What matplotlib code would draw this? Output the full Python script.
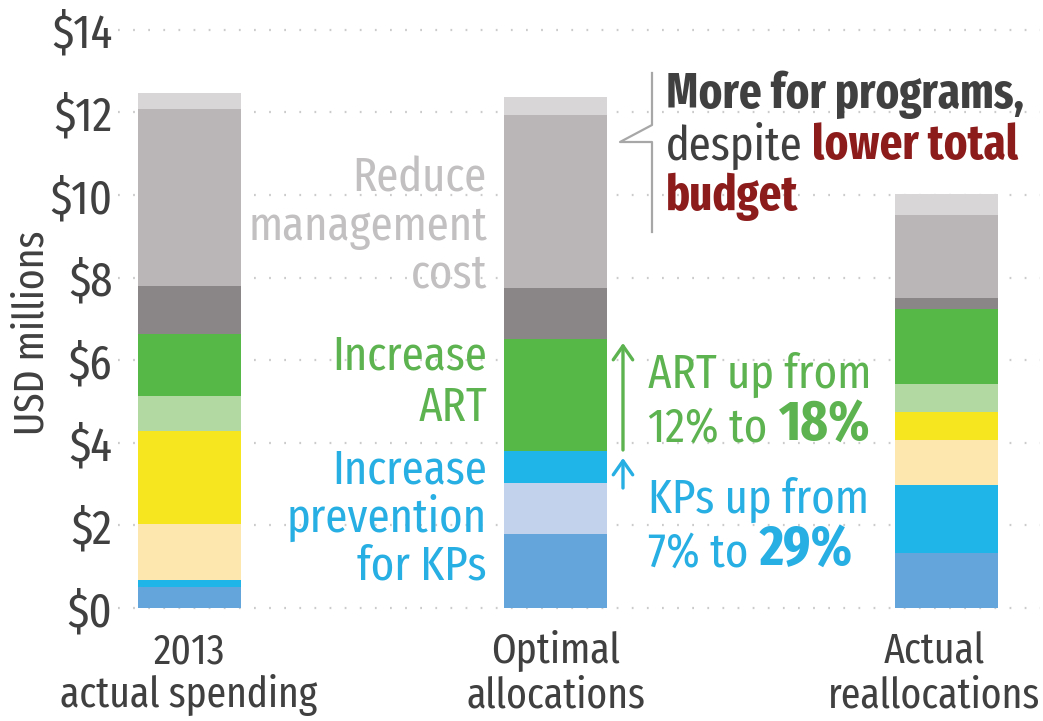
import matplotlib
matplotlib.use("Agg")
import matplotlib.pyplot as plt

W, H = 1043, 721

# bars (x positions are layout: the third bar sits a little further out)
categories = ["2013\nactual spending", "Optimal\nallocations", "Actual\nreallocations"]
xpos = [0, 1, 2.065]

# stacked segments, bottom to top, USD millions
kp_blue = [0.50, 1.79, 1.34]
kp_lavender = [0.00, 1.23, 0.00]
kp_cyan = [0.18, 0.78, 1.63]
cream = [1.36, 0.00, 1.10]
yellow = [2.24, 0.00, 0.67]
art_light = [0.85, 0.00, 0.69]
art = [1.50, 2.71, 1.81]
mgmt_dark = [1.17, 1.24, 0.26]
mgmt_mid = [4.29, 4.19, 2.01]
mgmt_light = [0.38, 0.44, 0.52]

yticks = [0, 2, 4, 6, 8, 10, 12, 14]
ytick_labels = ["$0", "$2", "$4", "$6", "$8", "$10", "$12", "$14"]

segments = [kp_blue, kp_lavender, kp_cyan, cream, yellow,
            art_light, art, mgmt_dark, mgmt_mid, mgmt_light]
seg_colors = ["#64a6dc", "#c3d2ec", "#1fb5e9", "#fde7ae", "#f6e620",
              "#b2d9a2", "#56b947", "#8a8586", "#bab5b6", "#d8d6d7"]

plt.rcParams["font.family"] = ["Fira Sans Extra Condensed", "DejaVu Sans"]

DARK = "#404040"
GREEN = "#5db350"
CYAN = "#27aee3"
LGRAY = "#c2c0c0"
RED = "#8c1c1c"
FS = 35

fig = plt.figure(figsize=(W / 100, H / 100), dpi=100)
# y: $0 at 608 px from top, 41.3 px per million
k = 41.3
ax = fig.add_axes([118 / W, (H - 608 - 0.1 * k) / H, 922 / W, 14.2 * k / H])

bottom = [0.0, 0.0, 0.0]
for vals, col in zip(segments, seg_colors):
    ax.bar(xpos, vals, width=0.281, bottom=bottom, color=col, linewidth=0, zorder=2)
    bottom = [b + v for b, v in zip(bottom, vals)]

ax.set_xlim(-0.195, 2.3206)
ax.set_ylim(-0.1, 14.1)
ax.set_yticks(yticks)
ax.set_yticklabels(ytick_labels, fontsize=FS, color=DARK)
ax.set_xticks([])
ax.tick_params(axis="y", length=0, pad=4)
for s in ax.spines.values():
    s.set_visible(False)
ax.yaxis.grid(True, linestyle=(0, (0.8, 6)), linewidth=1.6, color="#cbcbcb")
ax.set_axisbelow(True)

fig.text(32 / W, 1 - 333 / H, "USD millions", rotation=90, ha="center",
         va="center", fontsize=FS - 4, color=DARK)


def txt(x, y, s, **kw):
    # x, y in pixels from the top-left corner, y is the baseline
    kw.setdefault("fontsize", FS)
    return fig.text(x / W, 1 - y / H, s, va="baseline", **kw)


def txt_after(prev, s, gap=7, **kw):
    kw.setdefault("fontsize", FS)
    return ax.annotate(s, xy=(1, 0), xycoords=prev, xytext=(gap, 0),
                       textcoords="offset points", ha="left", va="bottom",
                       annotation_clip=False, **kw)


# category labels
for cx, lab in zip([189, 556, 934], categories):
    l1, l2 = lab.split("\n")
    txt(cx, 663, l1, ha="center", color=DARK, fontsize=31)
    txt(cx, 707, l2, ha="center", color=DARK, fontsize=31)

# labels left of the optimal bar
for y, s in zip([192, 240, 287], ["Reduce", "management", "cost"]):
    txt(487, y, s, ha="right", color=LGRAY)
for y, s in zip([370, 421], ["Increase", "ART"]):
    txt(487, y, s, ha="right", color=GREEN)
for y, s in zip([484, 532, 580], ["Increase", "prevention", "for KPs"]):
    txt(487, y, s, ha="right", color=CYAN)

# arrows right of the optimal bar
ax_x = (623 - 189.5) / 366.5
ax.annotate("", xy=(ax_x, (608 - 343) / k), xytext=(ax_x, (608 - 450) / k),
            arrowprops=dict(arrowstyle="->, head_length=1.0, head_width=0.7",
                            color=GREEN, lw=2.4, shrinkA=0, shrinkB=0,
                            mutation_scale=10), annotation_clip=False)
ax.annotate("", xy=(ax_x, (608 - 458) / k), xytext=(ax_x, (608 - 488) / k),
            arrowprops=dict(arrowstyle="->, head_length=1.0, head_width=0.7",
                            color=CYAN, lw=2.4, shrinkA=0, shrinkB=0,
                            mutation_scale=10), annotation_clip=False)

txt(648, 388, "ART up from", color=GREEN)
t = txt(648, 442, "12% to", color=GREEN)
txt_after(t, "18%", gap=8, color=GREEN, fontweight="bold", fontsize=FS + 6)
txt(648, 513, "KPs up from", color=CYAN)
t = txt(648, 567, "7% to", color=CYAN)
txt_after(t, "29%", gap=8, color=CYAN, fontweight="bold", fontsize=FS + 6)

# bracket and budget note
bx = [652, 652, 620, 651, 652, 652]
by = [73, 125, 142, 142, 142, 232]
fig.add_artist(plt.Line2D([x / W for x in bx], [1 - y / H for y in by],
                          color="#a7a7a7", lw=1.6, transform=fig.transFigure))

txt(666, 108, "More for programs,", color=DARK, fontweight="bold")
t = txt(666, 160, "despite", color=DARK)
txt_after(t, "lower total", color=RED, fontweight="bold")
txt(666, 210, "budget", color=RED, fontweight="bold")

fig.savefig("out.png", dpi=100)
